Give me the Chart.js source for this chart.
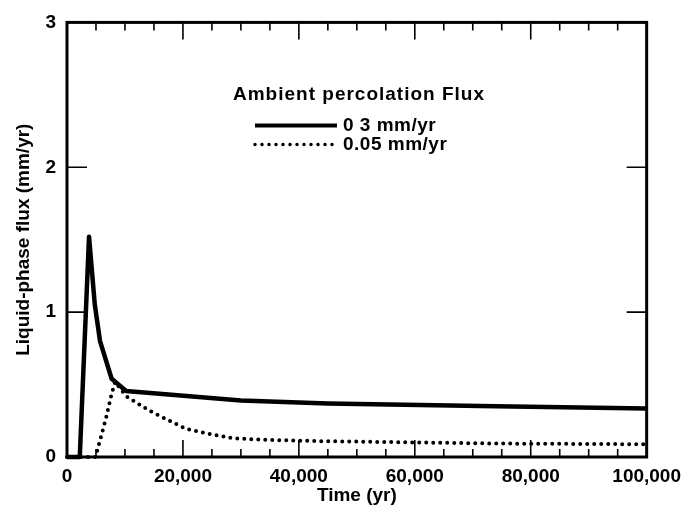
<!DOCTYPE html>
<html>
<head>
<meta charset="utf-8">
<script src="https://cdn.jsdelivr.net/npm/chart.js@4.4.1/dist/chart.umd.min.js"></script>
<style>
  html, body { margin: 0; padding: 0; background: #fff; }
</style>
</head>
<body>
<canvas id="fluxChart" width="689" height="513"></canvas>
<script>
// values
const timeHigh = [0, 2200, 3800, 4800, 5700, 7700, 10200, 30000, 45000, 74000, 100000];
const fluxHigh = [0, 0, 1.52, 1.05, 0.80, 0.54, 0.455, 0.39, 0.37, 0.35, 0.335];
const timeLow = [0, 4900, 5800, 6800, 7600, 8300, 10200, 14200, 17700, 20500, 24500, 28500, 33000, 43000, 74000, 100000];
const fluxLow = [0, 0, 0.13, 0.28, 0.42, 0.52, 0.42, 0.32, 0.25, 0.195, 0.16, 0.13, 0.12, 0.11, 0.093, 0.088];
const seriesLabels = ['0 3 mm/yr', '0.05 mm/yr'];
const legendTitle = 'Ambient percolation Flux';
const xMajorTicks = [0, 20000, 40000, 60000, 80000, 100000];
const xMinorTicks = [5000, 10000, 15000, 25000, 30000, 35000, 45000, 50000, 55000,
                     65000, 70000, 75000, 85000, 90000, 95000];
const yTicks = [0, 1, 2, 3];

const FONT = "'Liberation Sans', Arial, Helvetica, sans-serif";
const toPoints = (xs, ys) => xs.map((t, i) => ({ x: t, y: ys[i] }));

// box round the plot (under the curves), inward tick marks and legend (over them)
const frameAndLegend = {
  id: 'frameAndLegend',
  beforeDatasetsDraw(chart) {
    const { ctx, chartArea: a } = chart;
    ctx.save();
    ctx.strokeStyle = '#000';
    ctx.lineWidth = 3;
    ctx.strokeRect(a.left, a.top, a.right - a.left, a.bottom - a.top);
    ctx.restore();
  },
  afterDatasetsDraw(chart) {
    const { ctx, chartArea: a, scales: { x, y } } = chart;
    ctx.save();
    ctx.strokeStyle = '#000';
    ctx.lineWidth = 1.6;
    ctx.beginPath();
    xMajorTicks.slice(1, -1).forEach(v => {
      const px = x.getPixelForValue(v);
      ctx.moveTo(px, a.bottom); ctx.lineTo(px, a.bottom - 17);
      ctx.moveTo(px, a.top); ctx.lineTo(px, a.top + 17);
    });
    xMinorTicks.forEach(v => {
      const px = x.getPixelForValue(v);
      ctx.moveTo(px, a.bottom); ctx.lineTo(px, a.bottom - 8);
      ctx.moveTo(px, a.top); ctx.lineTo(px, a.top + 8);
    });
    yTicks.slice(1, -1).forEach(v => {
      const py = y.getPixelForValue(v);
      ctx.moveTo(a.left, py); ctx.lineTo(a.left + 20, py);
      ctx.moveTo(a.right, py); ctx.lineTo(a.right - 20, py);
    });
    ctx.stroke();

    // legend
    ctx.fillStyle = '#000';
    ctx.font = 'bold 19px ' + FONT;
    ctx.letterSpacing = '1px';
    ctx.textBaseline = 'middle';
    ctx.textAlign = 'center';
    ctx.fillText(legendTitle, a.left + 292, a.top + 72);
    ctx.textAlign = 'left';
    ctx.letterSpacing = '0.5px';
    chart.data.datasets.forEach((ds, i) => {
      const yy = a.top + 103 + i * 19;
      ctx.save();
      ctx.lineWidth = i === 0 ? 4 : 3.5;
      ctx.lineCap = ds.borderCapStyle || 'butt';
      ctx.setLineDash(ds.borderDash || []);
      ctx.beginPath();
      ctx.moveTo(a.left + 188, yy);
      ctx.lineTo(a.left + 270, yy);
      ctx.stroke();
      ctx.restore();
      ctx.fillText(ds.label, a.left + 276, yy);
    });
    ctx.restore();
  }
};

new Chart(document.getElementById('fluxChart'), {
  type: 'line',
  data: {
    datasets: [{
      label: seriesLabels[0],
      data: toPoints(timeHigh, fluxHigh),
      borderColor: '#000',
      borderWidth: 4.5,
      borderJoinStyle: 'round',
      pointRadius: 0,
      tension: 0,
      fill: false,
      clip: false
    }, {
      label: seriesLabels[1],
      data: toPoints(timeLow, fluxLow),
      borderColor: '#000',
      borderWidth: 4,
      borderDash: [0, 7],
      borderCapStyle: 'round',
      pointRadius: 0,
      tension: 0,
      fill: false,
      clip: false
    }]
  },
  options: {
    responsive: false,
    animation: false,
    layout: { padding: { top: 18, right: 40, left: 0, bottom: 0 } },
    plugins: {
      legend: { display: false },
      tooltip: { enabled: false }
    },
    scales: {
      x: {
        type: 'linear',
        min: 0,
        max: 100000,
        afterBuildTicks: s => { s.ticks = xMajorTicks.map(v => ({ value: v })); },
        afterFit: s => { s.height = 56; },
        ticks: {
          color: '#000',
          autoSkip: false,
          maxRotation: 0,
          padding: 8,
          font: { family: FONT, size: 19, weight: 'bold' },
          callback: v => v.toLocaleString('en-US')
        },
        grid: { display: false, drawTicks: false },
        border: { display: false },
        title: {
          display: true,
          text: 'Time (yr)',
          color: '#000',
          font: { family: FONT, size: 19, weight: 'bold', lineHeight: 1.2 },
          padding: { top: 0, bottom: 6 }
        }
      },
      y: {
        min: 0,
        max: 3,
        afterBuildTicks: s => { s.ticks = yTicks.map(v => ({ value: v })); },
        afterFit: s => { s.width = 67; },
        ticks: {
          color: '#000',
          padding: 11,
          font: { family: FONT, size: 19, weight: 'bold' }
        },
        grid: { display: false, drawTicks: false },
        border: { display: false },
        title: {
          display: true,
          text: 'Liquid-phase flux (mm/yr)',
          color: '#000',
          font: { family: FONT, size: 19, weight: 'bold', lineHeight: 1.2 },
          padding: { top: 12, bottom: 0 }
        }
      }
    }
  },
  plugins: [frameAndLegend]
});
</script>
</body>
</html>
